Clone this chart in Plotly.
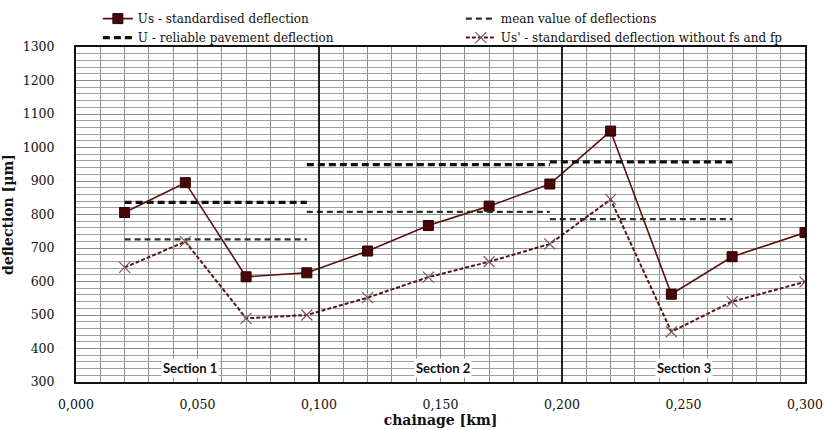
import plotly.graph_objects as go

chainage = [0.020, 0.045, 0.070, 0.095, 0.120, 0.145, 0.170, 0.195, 0.220, 0.245, 0.270, 0.300]
us = [806, 895, 614, 626, 691, 767, 825, 891, 1049, 562, 674, 746]
us_prime = [642, 719, 490, 500, 552, 613, 659, 712, 845, 450, 540, 599]

sec_start = [0.020, 0.095, 0.195]
sec_end = [0.095, 0.195, 0.270]
mean_vals = [726, 808, 786]
u_vals = [836, 949, 957]

sec_bounds = [0.100, 0.200]
sec_labels = ["Section 1", "Section 2", "Section 3"]
sec_label_x = [0.047, 0.151, 0.250]
sec_label_y = 342

x_ticks = [0.0, 0.05, 0.10, 0.15, 0.20, 0.25, 0.30]


def segments(starts, ends, vals):
    xs, ys = [], []
    for s, e, v in zip(starts, ends, vals):
        xs += [s, e, None]
        ys += [v, v, None]
    return xs, ys


mx, my = segments(sec_start, sec_end, mean_vals)
ux, uy = segments(sec_start, sec_end, u_vals)

fig = go.Figure()
fig.add_trace(go.Scatter(
    x=chainage, y=us, mode="lines+markers", name="Us - standardised deflection",
    line=dict(color="#5b0f0f", width=1.6),
    marker=dict(symbol="square", size=10, color="#4a0606", line=dict(color="#2a0000", width=1)),
))
fig.add_trace(go.Scatter(
    x=mx, y=my, mode="lines", name="mean value of deflections",
    line=dict(color="#263626", width=2.2, dash="6px,4px"),
))
fig.add_trace(go.Scatter(
    x=ux, y=uy, mode="lines", name="U - reliable pavement deflection",
    line=dict(color="#111111", width=3.2, dash="7px,4px"),
))
fig.add_trace(go.Scatter(
    x=chainage, y=us_prime, mode="lines+markers",
    name="Us' - standardised deflection without fs and fp",
    line=dict(color="#5b1414", width=2, dash="4px,2px"),
    marker=dict(symbol="x-thin-open", size=11, color="#7a5a5a", line=dict(color="#7a5a5a", width=1.2)),
))

for b in sec_bounds:
    fig.add_shape(type="line", xref="x", yref="paper", x0=b, x1=b, y0=0, y1=1,
                  line=dict(color="#111111", width=1.8), layer="above")

for t, x in zip(sec_labels, sec_label_x):
    fig.add_annotation(x=x, y=sec_label_y, text=f"<b>{t}</b>", showarrow=False,
                       font=dict(family="Lato", size=13, color="#111111"),
                       bgcolor="white", borderpad=1)

serif = "DejaVu Serif"
fig.update_layout(
    width=825, height=430,
    margin=dict(l=76, r=20, t=47, b=48, autoexpand=False),
    paper_bgcolor="white", plot_bgcolor="white",
    separators=",.",
    font=dict(family=serif, size=12, color="#111111"),
    showlegend=True,
    legend=dict(orientation="h", x=0.03, xanchor="left", y=1.128, yanchor="top",
                entrywidth=318, entrywidthmode="pixels", tracegroupgap=0,
                font=dict(family=serif, size=12, color="#111111"),
                bgcolor="rgba(0,0,0,0)"),
    xaxis=dict(range=[0, 0.3], tickvals=x_ticks, tickformat=".3f",
               showgrid=True, gridcolor="#8c8c8c", gridwidth=1,
               minor=dict(dtick=0.01, showgrid=True, gridcolor="#8c8c8c", gridwidth=1),
               showline=True, linecolor="#111111", linewidth=2, mirror=True,
               ticks="", zeroline=False, ticklabelstandoff=10,
               title=dict(text="<b>chainage [km]</b>", standoff=3,
                          font=dict(family=serif, size=14, color="#111111")),
               tickfont=dict(family=serif, size=12.5, color="#111111")),
    yaxis=dict(range=[300, 1300], dtick=100,
               showgrid=True, gridcolor="#8c8c8c", gridwidth=1,
               minor=dict(dtick=20, showgrid=True, gridcolor="#a0a0a0", gridwidth=1),
               showline=True, linecolor="#111111", linewidth=2, mirror=True,
               ticks="", zeroline=False, ticklabelstandoff=17,
               title=dict(text="<b>deflection [µm]</b>", standoff=8,
                          font=dict(family=serif, size=14, color="#111111")),
               tickfont=dict(family=serif, size=12.5, color="#111111")),
)

fig.write_html("out.html", config={"displayModeBar": False},
               post_script="document.body.style.margin='0';")
